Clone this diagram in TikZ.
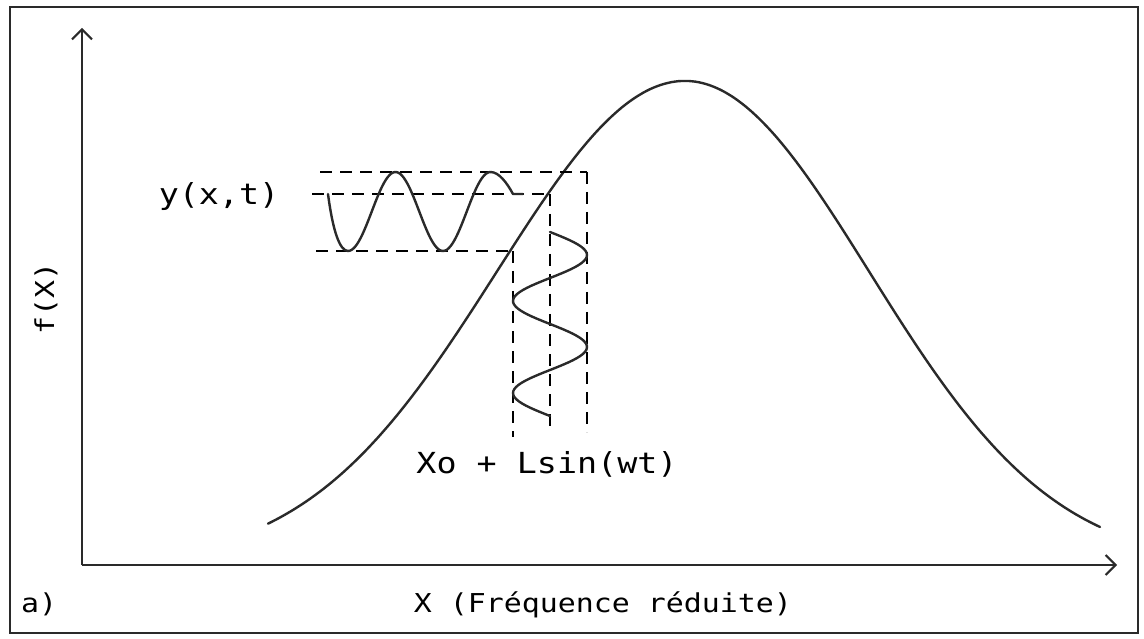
\documentclass[tikz,border=0pt]{standalone}
\usepackage{fontspec}
\usetikzlibrary{arrows.meta}
\newfontfamily\plotfont[FakeStretch=1.15]{DejaVu Sans Mono}
\definecolor{ink}{HTML}{2a2a2a}
\tikzset{
  frameline/.style={draw=ink, line width=2.4pt},
  axisline/.style={draw=ink, line width=2pt, -{Straight Barb[length=10pt,width=20pt,line width=2pt]}},
  curveline/.style={draw=ink, line width=2.4pt, line join=round, line cap=round},
  guideline/.style={draw=black, line width=2.6pt, dash pattern=on 12pt off 8pt},
  lbl/.style={font=\plotfont\fontsize{29}{30}\selectfont, inner sep=0pt, text=black},
  smalllbl/.style={font=\plotfont\fontsize{26}{28}\selectfont, inner sep=0pt, text=black}
}
\begin{document}
\begin{tikzpicture}[x=1pt,y=-1pt]
\useasboundingbox (0,0) rectangle (1144,639);
% frame
\draw[frameline] (10,7) rectangle (1138,633);
% axes
\coordinate (O) at (82,565);
\coordinate (ytip) at (82,28);
\coordinate (xtip) at (1117,565);
\draw[axisline] (O) -- (ytip);
\draw[axisline] (O) -- (xtip);
% main curve (asymmetric bell)
\draw[curveline]
  plot[domain=268:685, samples=120] (\x, {565-484*exp(-0.5*((\x-685)/188)^2)})
  -- plot[domain=685:1100, samples=120] (\x, {565-484*exp(-0.5*((\x-685)/184)^2)});
% guide lines
\coordinate (h1a) at (320,172); \coordinate (h1b) at (587,172);
\coordinate (h2a) at (312,194); \coordinate (h2b) at (550,194);
\coordinate (h3a) at (316,251); \coordinate (h3b) at (513,251);
\coordinate (v1b) at (513,437);
\coordinate (v2b) at (550,432);
\coordinate (v3b) at (587,432);
\draw[guideline] (h1a) -- (h1b);
\draw[guideline] (h2a) -- (h2b);
\draw[guideline] (h3a) -- (h3b);
\draw[guideline] (h3b) -- (v1b);
\draw[guideline] (h2b) -- (v2b);
\draw[guideline] (h1b) -- (v3b);
% output wave (horizontal)
\draw[curveline] (328,194) .. controls (333,232) and (340,251) .. (348,251)
  -- plot[domain=348:490.5, samples=80] (\x, {211.5+39.5*cos((\x-348)*3.78947)})
  .. controls (499,172) and (507,183) .. (513,194) -- (523,194);
% input wave (vertical)
\draw[curveline] plot[domain=232:416, samples=90] ({550+37*sin((\x-232)*3.91304)}, \x);
% labels
\node[lbl, anchor=base] (ylbl) at (219,205) {y(x,t)};
\node[lbl, anchor=base] (inlbl) at (547,473) {Xo + Lsin(wt)};
\node[smalllbl, anchor=base] (xlbl) at (603,612) {X (Fréquence réduite)};
\node[smalllbl, anchor=base west] (alb) at (21,612) {a)};
\node[smalllbl, anchor=base, rotate=90] (flbl) at (54,298) {f(X)};
\end{tikzpicture}
\end{document}
